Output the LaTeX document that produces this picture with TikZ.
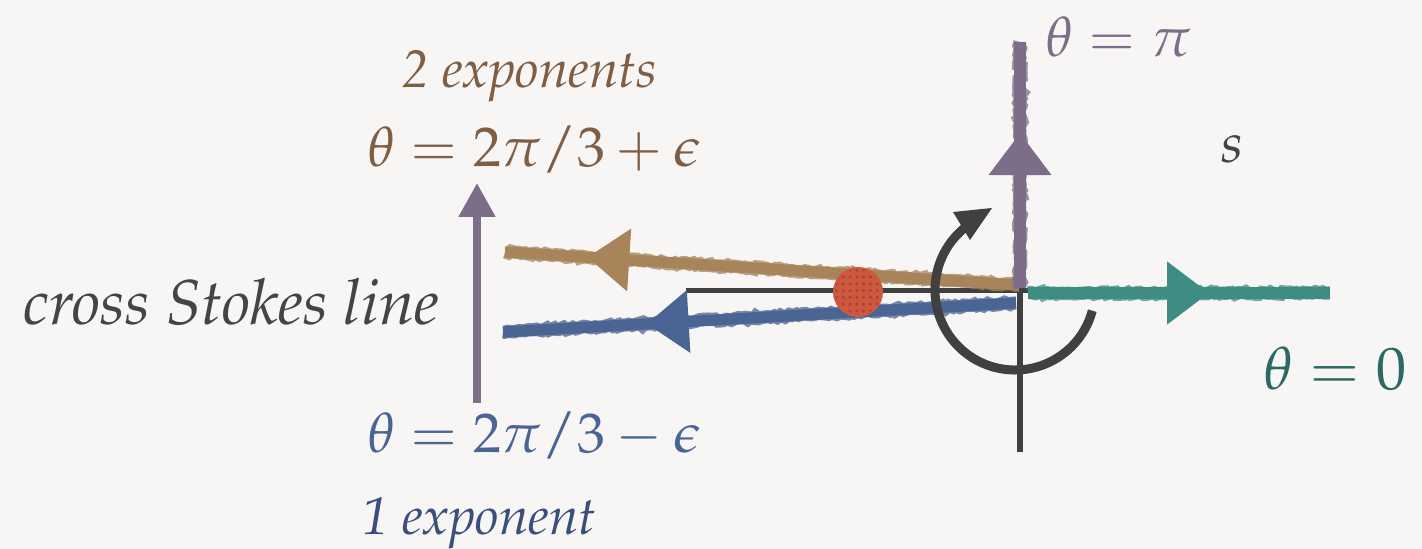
\documentclass[tikz,border=0pt]{standalone}
\usepackage[T1]{fontenc}
\usepackage{mathpazo}
\usetikzlibrary{arrows.meta,decorations.markings,decorations.pathmorphing,patterns}
\definecolor{bgc}{HTML}{F7F6F4}
\definecolor{tanc}{HTML}{A8845A}
\definecolor{brownt}{HTML}{7F5E44}
\definecolor{bluec}{HTML}{4A6494}
\definecolor{bluet}{HTML}{4A6496}
\definecolor{darkbluet}{HTML}{3B4F7C}
\definecolor{tealc}{HTML}{3E8C82}
\definecolor{tealt}{HTML}{2A6A62}
\definecolor{purplec}{HTML}{7C6E88}
\definecolor{axisc}{HTML}{404040}
\definecolor{textg}{HTML}{444444}
\definecolor{dotc}{HTML}{CC5840}
\definecolor{dotd}{HTML}{A8382A}
\pgfdeclarepatternformonly{reddots}{\pgfqpoint{-1pt}{-1pt}}{\pgfqpoint{1pt}{1pt}}{\pgfqpoint{3.4pt}{3.4pt}}{%
  \pgfpathcircle{\pgfqpoint{0pt}{0pt}}{0.85pt}\pgfusepath{fill}}
\tikzset{
  chalk/.style={line width=5.6pt},
  rough/.style={line width=6.6pt, opacity=0.75, decorate,
      decoration={random steps, segment length=1.6pt, amplitude=0.7pt}},
  midarrow/.style={postaction={decorate,decoration={markings,
      mark=at position #1 with {\arrow{Triangle[length=21pt,width=30pt]}}}}},
  axisline/.style={axisc, line width=2.5pt},
  turn/.style={axisc, line width=4.5pt},
  lbl/.style={inner sep=0pt, anchor=base west},
}
\begin{document}
\begin{tikzpicture}[x=0.5pt,y=-0.5pt]
\fill[bgc] (0,0) rectangle (1422,549);
\useasboundingbox (0,0) rectangle (1422,549);

% coordinates
\coordinate (O) at (1020,291);
\coordinate (Hl) at (686,291);
\coordinate (Hr) at (1028,291);
\coordinate (Vb) at (1020,452);
\coordinate (Ta) at (1019,285);
\coordinate (Tb) at (505,252);
\coordinate (Ba) at (1016,303);
\coordinate (Bb) at (503,332);
\coordinate (Ga) at (1028,293);
\coordinate (Gb) at (1330,293);
\coordinate (Pa) at (1020,288);
\coordinate (Pb) at (1020,42);
\coordinate (La) at (477,403);
\coordinate (Lb) at (477,183);

% axes
\draw[axisline] (Hl) -- (Hr);
\draw[axisc, line width=3pt] (O) -- (Vb);

% chalk lines
\draw[rough, tanc] (Ta) -- (Tb);
\draw[chalk, tanc, midarrow=0.84] (Ta) -- (Tb);
\draw[rough, bluec] (Ba) -- (Bb);
\draw[chalk, bluec, midarrow=0.72] (Ba) -- (Bb);
\draw[rough, tealc] (Ga) -- (Gb);
\draw[chalk, tealc, midarrow=0.6] (Ga) -- (Gb);
\draw[rough, purplec] (Pa) -- (Pb);
\draw[chalk, purplec, midarrow=0.63] (Pa) -- (Pb);

% cross Stokes arrow
\draw[purplec, line width=4pt, -{Triangle[length=17pt,width=17.5pt]}] (La) -- (Lb);

% red dot
\node[circle, minimum size=25pt, inner sep=0pt, fill=dotc] (dot) at (858,292) {};
\fill[pattern=reddots, pattern color=dotd, opacity=0.7] (dot.center) circle[radius=23];

% turning arrow
\draw[turn] (1015,290) ++(15:80) arc[start angle=15, end angle=233, radius=80];
\fill[axisc] (992,208) -- (953,212) -- (970,240) -- cycle;

% labels
\node[lbl, brownt] (twoexp) at (402,88) {\fontsize{26.5}{30}\selectfont\itshape 2 exponents};
\node[lbl, brownt] (tplus) at (367,167) {\fontsize{28}{32}\selectfont $\theta = 2\pi/3 + \epsilon$};
\node[lbl, bluet] (tminus) at (367,452) {\fontsize{28}{32}\selectfont $\theta = 2\pi/3 - \epsilon$};
\node[lbl, darkbluet] (oneexp) at (362,534) {\fontsize{26.5}{30}\selectfont\itshape 1 exponent};
\node[lbl, textg] (cross) at (23,325) {\fontsize{31.7}{36}\selectfont\itshape cross Stokes line};
\node[lbl, purplec] (tpi) at (1045,57) {\fontsize{28}{32}\selectfont $\theta = \pi$};
\node[lbl, textg] (s) at (1220,163) {\fontsize{28}{32}\selectfont $s$};
\node[lbl, tealt] (tzero) at (1263,390) {\fontsize{30}{34}\selectfont $\theta = 0$};
\end{tikzpicture}
\end{document}
